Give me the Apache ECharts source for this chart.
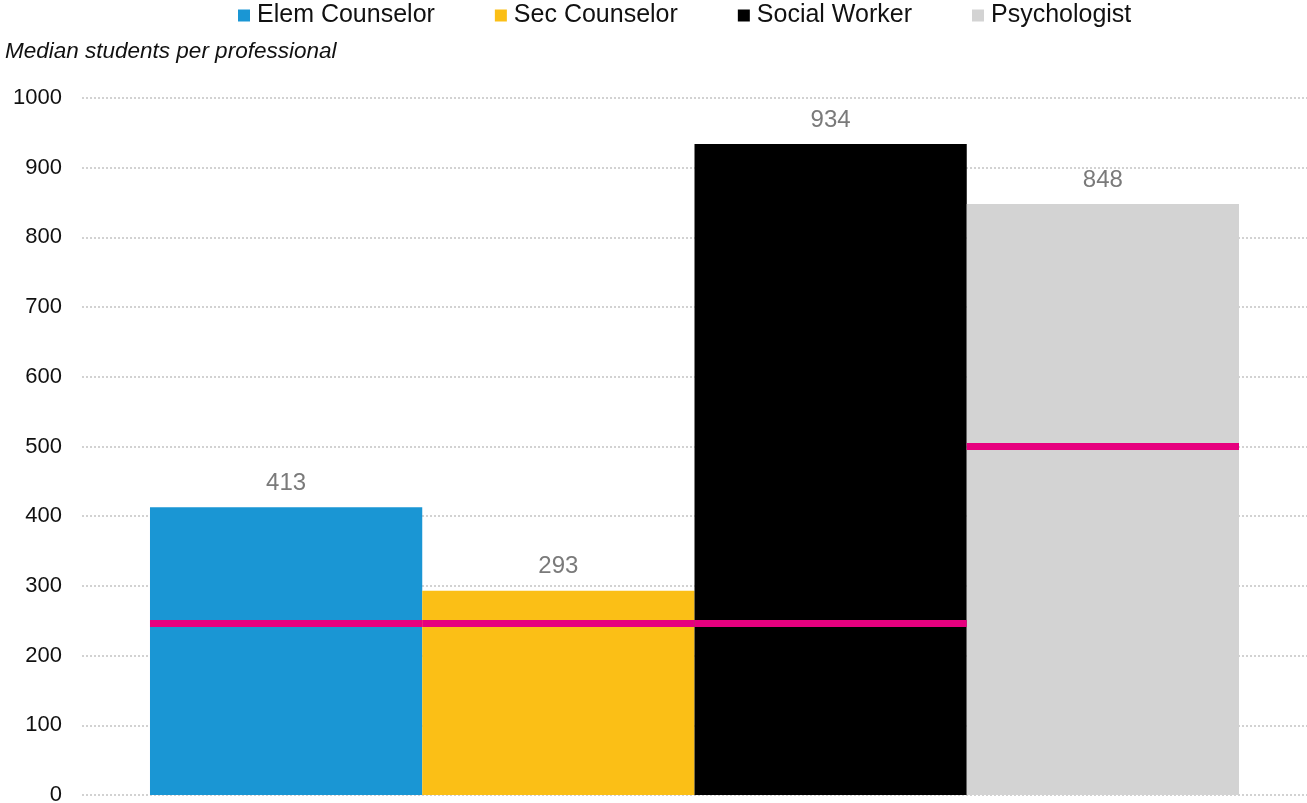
<!DOCTYPE html>
<html>
<head>
<meta charset="utf-8">
<script src="https://cdn.jsdelivr.net/npm/echarts@6/dist/echarts.min.js"></script>
<style>
  html, body { margin: 0; padding: 0; background: #fff; }
  #chart { width: 1307px; height: 803px; }
</style>
</head>
<body>
<div id="chart"></div>
<script>
// Median students per professional, with recommended ratios
const roles = ['Elem Counselor', 'Sec Counselor', 'Social Worker', 'Psychologist'];
const medians = [413, 293, 934, 848];
const recommended = [246, 246, 246, 500];
const colors = ['#1a96d4', '#fbbf16', '#000000', '#d3d3d3'];
const yTicks = { min: 0, max: 1000, interval: 100 };

const FONT = 'Liberation Sans, Arial, sans-serif';
const CATEGORY_GAP = 0.111;

const chart = echarts.init(document.getElementById('chart'));

const barSeries = roles.map((name, i) => ({
  name,
  type: 'bar',
  data: [medians[i]],
  barGap: '0%',
  barCategoryGap: (CATEGORY_GAP * 100) + '%',
  itemStyle: { color: colors[i] },
  label: {
    show: true,
    position: 'top',
    distance: 12,
    color: '#7a7a7a',
    fontSize: 24,
    fontFamily: FONT
  }
}));

// Recommended ratio drawn as a magenta segment across each bar's slot
const targetSeries = {
  type: 'custom',
  name: 'Recommended',
  z: 10,
  silent: true,
  data: recommended.map((v, i) => [0, v, i]),
  renderItem(params, api) {
    const center = api.coord([api.value(0), 0])[0];
    const band = api.size([1, 0])[0];
    const groupW = band * (1 - CATEGORY_GAP);
    const barW = groupW / roles.length;
    const slot = api.value(2);
    const x0 = center - groupW / 2 + slot * barW;
    const y = api.coord([api.value(0), api.value(1)])[1];
    return {
      type: 'line',
      shape: { x1: x0, y1: y, x2: x0 + barW, y2: y },
      style: { stroke: '#e6007e', lineWidth: 7, lineCap: 'butt' }
    };
  }
};

chart.setOption({
  animation: false,
  textStyle: { fontFamily: FONT },
  legend: {
    data: roles,
    top: 3,
    left: 238,
    padding: 0,
    icon: 'rect',
    itemWidth: 12,
    itemHeight: 12,
    itemGap: 60,
    textStyle: { fontSize: 25, color: '#111', padding: [0, 0, 0, 2] }
  },
  title: {
    text: 'Median students per professional',
    left: 5,
    top: 40,
    padding: 0,
    textStyle: {
      fontSize: 22.5,
      fontStyle: 'italic',
      fontWeight: 'normal',
      color: '#111',
      fontFamily: FONT
    }
  },
  grid: {
    left: 82, right: 0, top: 98, bottom: 8,
    containLabel: false,
    outerBoundsMode: 'none'
  },
  xAxis: {
    type: 'category',
    data: [''],
    axisLine: { show: false },
    axisTick: { show: false },
    axisLabel: { show: false }
  },
  yAxis: {
    type: 'value',
    min: yTicks.min,
    max: yTicks.max,
    interval: yTicks.interval,
    axisLine: { show: false },
    axisTick: { show: false },
    axisLabel: {
      fontSize: 22,
      color: '#111',
      margin: 20,
      formatter: (v) => String(v)
    },
    splitLine: {
      lineStyle: { color: '#d2d2d2', width: 2, type: [2, 2] }
    }
  },
  series: [...barSeries, targetSeries]
});
</script>
</body>
</html>
